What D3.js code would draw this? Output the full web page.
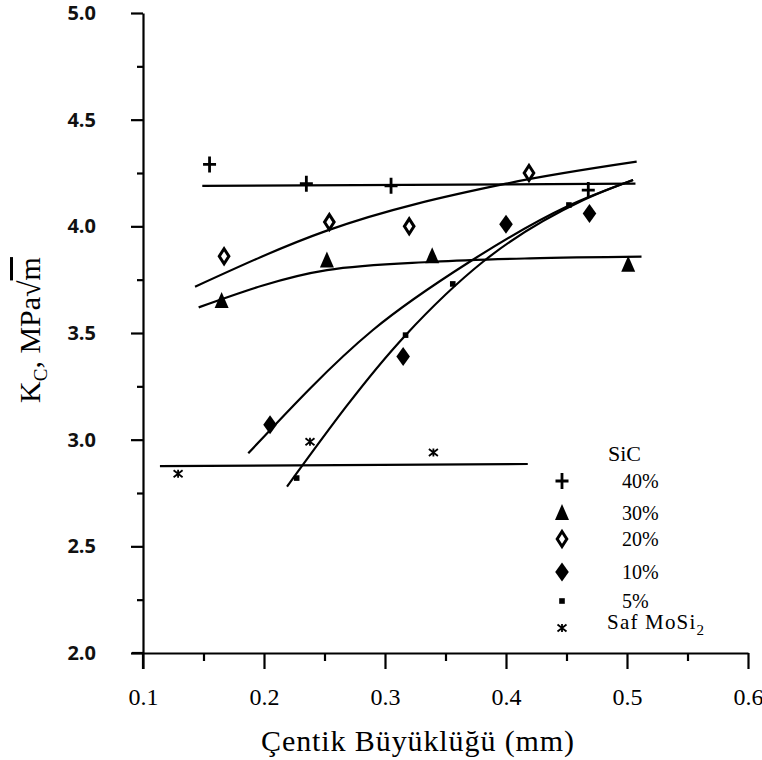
<!DOCTYPE html>
<html>
<head>
<meta charset="utf-8">
<script src="https://cdn.jsdelivr.net/npm/d3@7"></script>
<style>
  body { margin: 0; background: #fff; }
  svg { display: block; }
</style>
</head>
<body>
<div id="container"></div>
<script>
// notch size (mm) vs K_C
const sic40 = [[0.155, 4.29], [0.235, 4.20], [0.305, 4.19], [0.468, 4.17]];
const sic30 = [[0.165, 3.65], [0.252, 3.84], [0.339, 3.86], [0.501, 3.82]];
const sic20 = [[0.167, 3.86], [0.254, 4.02], [0.320, 4.00], [0.419, 4.25]];
const sic10 = [[0.205, 3.07], [0.315, 3.39], [0.400, 4.01], [0.469, 4.06]];
const sic5 = [[0.227, 2.82], [0.317, 3.49], [0.356, 3.73], [0.452, 4.10]];
const pureMoSi2 = [[0.129, 2.84], [0.238, 2.99], [0.340, 2.94]];

// hand-drawn fit lines in the figure
const fit40 = [[0.149, 4.19], [0.507, 4.20]];
const fit30 = [[0.146, 3.62], [0.252, 3.795], [0.340, 3.834], [0.420, 3.850], [0.512, 3.858]];
const fit20 = [[0.143, 3.717], [0.252, 3.98], [0.400, 4.20], [0.508, 4.303]];
const fit10 = [[0.187, 2.936], [0.290, 3.514], [0.370, 3.834], [0.450, 4.092], [0.505, 4.217]];
const fit5 = [[0.219, 2.78], [0.317, 3.49], [0.381, 3.834], [0.464, 4.123], [0.505, 4.217]];
const fitPure = [[0.114, 2.876], [0.418, 2.886]];

const xMajor = [0.1, 0.2, 0.3, 0.4, 0.5, 0.6];
const xMinor = [0.15, 0.25, 0.35, 0.45, 0.55];
const yMajor = [2.0, 2.5, 3.0, 3.5, 4.0, 4.5, 5.0];
const yMinor = [2.25, 2.75, 3.25, 3.75, 4.25, 4.75];

const legendTitle = "SiC";
const legendLabels = ["40%", "30%", "20%", "10%", "5%", "Saf MoSi"];

const width = 762;
const height = 760;

const svg = d3.select("div#container")
  .append("svg")
  .attr("width", width)
  .attr("height", height);

const x = d3.scaleLinear().domain([0.1, 0.6]).range([143, 748]);
const y = d3.scaleLinear().domain([2, 5]).range([653, 13]);

const serif = "'Liberation Serif', 'Times New Roman', serif";

//////////////////// AXES ////////////////////

const xAxis = svg.append("g")
  .attr("transform", `translate(0,${y(2)})`)
  .call(d3.axisBottom(x).tickValues(xMajor).tickSize(16).tickSizeOuter(0)
    .tickFormat(d3.format(".1f")).tickPadding(19));
xAxis.select(".domain").attr("stroke-width", 2.2);
xAxis.selectAll(".tick line").attr("stroke-width", 2.2);
xAxis.attr("font-family", serif).attr("font-size", 24);
xAxis.selectAll(".tick text")
  .style("font-family", serif)
  .style("font-size", "24px")
  .attr("fill", "#000");

svg.append("g")
  .attr("transform", `translate(0,${y(2)})`)
  .call(d3.axisBottom(x).tickValues(xMinor).tickSize(8).tickFormat(""))
  .call(g => g.select(".domain").remove())
  .selectAll(".tick line").attr("stroke-width", 2.2);

const yAxis = svg.append("g")
  .attr("transform", `translate(${x(0.1)},0)`)
  .call(d3.axisLeft(y).tickValues(yMajor).tickSize(12).tickSizeOuter(0)
    .tickFormat(d3.format(".1f")).tickPadding(35));
yAxis.select(".domain").attr("stroke-width", 2.2);
yAxis.selectAll(".tick line").attr("stroke-width", 2.2);
yAxis.selectAll(".tick text")
  .style("font-family", "'Open Sans', 'DejaVu Sans', sans-serif")
  .style("font-weight", "bold")
  .style("font-size", "20px")
  .attr("fill", "#111");

svg.append("g")
  .attr("transform", `translate(${x(0.1)},0)`)
  .call(d3.axisLeft(y).tickValues(yMinor).tickSize(6).tickFormat(""))
  .call(g => g.select(".domain").remove())
  .selectAll(".tick line").attr("stroke-width", 2.2);

// the corner cross at (0.1, 2.0)
svg.append("line")
  .attr("x1", x(0.1) - 11).attr("x2", x(0.1))
  .attr("y1", y(2)).attr("y2", y(2))
  .attr("stroke", "#000").attr("stroke-width", 2.2);
svg.append("line")
  .attr("x1", x(0.1)).attr("x2", x(0.1))
  .attr("y1", y(2)).attr("y2", y(2) + 16)
  .attr("stroke", "#000").attr("stroke-width", 2.2);

// axis titles
svg.append("text")
  .attr("x", 418)
  .attr("y", 751)
  .attr("text-anchor", "middle")
  .attr("font-family", serif)
  .attr("font-size", 30)
  .attr("letter-spacing", 0.9)
  .text("Çentik Büyüklüğü (mm)");

const yTitle = svg.append("text")
  .attr("transform", "translate(40,330) rotate(-90)")
  .attr("text-anchor", "middle")
  .attr("font-family", serif)
  .attr("font-size", 30);
yTitle.append("tspan").text("K");
yTitle.append("tspan").attr("font-size", 19).attr("dy", 7).text("C");
yTitle.append("tspan").attr("dy", -7).text(", MPa√");
yTitle.append("tspan").style("text-decoration", "overline").text("m");

//////////////////// FIT LINES ////////////////////

const line = d3.line()
  .x(d => x(d[0]))
  .y(d => y(d[1]))
  .curve(d3.curveMonotoneX);

svg.append("g")
  .attr("fill", "none")
  .attr("stroke", "#000")
  .attr("stroke-width", 2.2)
  .selectAll("path")
  .data([fit40, fit30, fit20, fit10, fit5, fitPure])
  .join("path")
  .attr("d", line);

//////////////////// MARKERS ////////////////////

const drawMarker = (g, kind) => {
  if (kind === "plus") {
    g.append("path").attr("d", "M-6.5,0H6.5M0,-8V8")
      .attr("stroke", "#000").attr("stroke-width", 2.8).attr("fill", "none");
  } else if (kind === "tri") {
    g.append("path").attr("d", "M0,-9L7,7H-7Z").attr("fill", "#000");
  } else if (kind === "open") {
    g.append("path").attr("d", "M0,-7.5L4.8,0L0,7.5L-4.8,0Z")
      .attr("fill", "#fff").attr("stroke", "#000").attr("stroke-width", 3);
  } else if (kind === "filled") {
    g.append("path").attr("d", "M0,-9.5L6.8,0L0,9.5L-6.8,0Z").attr("fill", "#000");
  } else if (kind === "square") {
    g.append("rect").attr("x", -2.8).attr("y", -2.8).attr("width", 5.6).attr("height", 5.6)
      .attr("fill", "#000");
  } else {
    g.append("path").attr("d", "M-4.5,-3.5L4.5,3.5M-4.5,3.5L4.5,-3.5M0,-4V4")
      .attr("stroke", "#000").attr("stroke-width", 1.8).attr("fill", "none");
  }
};

const groups = [
  {data: sic40, kind: "plus"},
  {data: sic30, kind: "tri"},
  {data: sic20, kind: "open"},
  {data: sic10, kind: "filled"},
  {data: sic5, kind: "square"},
  {data: pureMoSi2, kind: "star"},
];

groups.forEach(s => {
  svg.append("g")
    .selectAll("g")
    .data(s.data)
    .join("g")
    .attr("transform", d => `translate(${x(d[0])},${y(d[1])})`)
    .each(function() { drawMarker(d3.select(this), s.kind); });
});

//////////////////// LEGEND ////////////////////

const legend = svg.append("g")
  .attr("font-family", serif)
  .attr("font-size", 20);

legend.append("text")
  .attr("x", 608)
  .attr("y", 461)
  .attr("font-size", 22)
  .text(legendTitle);

const legendRows = [481, 513, 539, 572, 601, 628];
groups.forEach((s, i) => {
  const g = legend.append("g").attr("transform", `translate(562,${legendRows[i]})`);
  drawMarker(g, s.kind);
  const t = legend.append("text")
    .attr("x", i === 5 ? 607 : 622)
    .attr("y", legendRows[i] + 7)
    .text(legendLabels[i]);
  if (i === 5) {
    t.attr("font-size", 21).attr("letter-spacing", 1.2).attr("y", legendRows[i] + 1);
    t.append("tspan").attr("font-size", 15).attr("dy", 6).text("2");
  }
});
</script>
</body>
</html>
